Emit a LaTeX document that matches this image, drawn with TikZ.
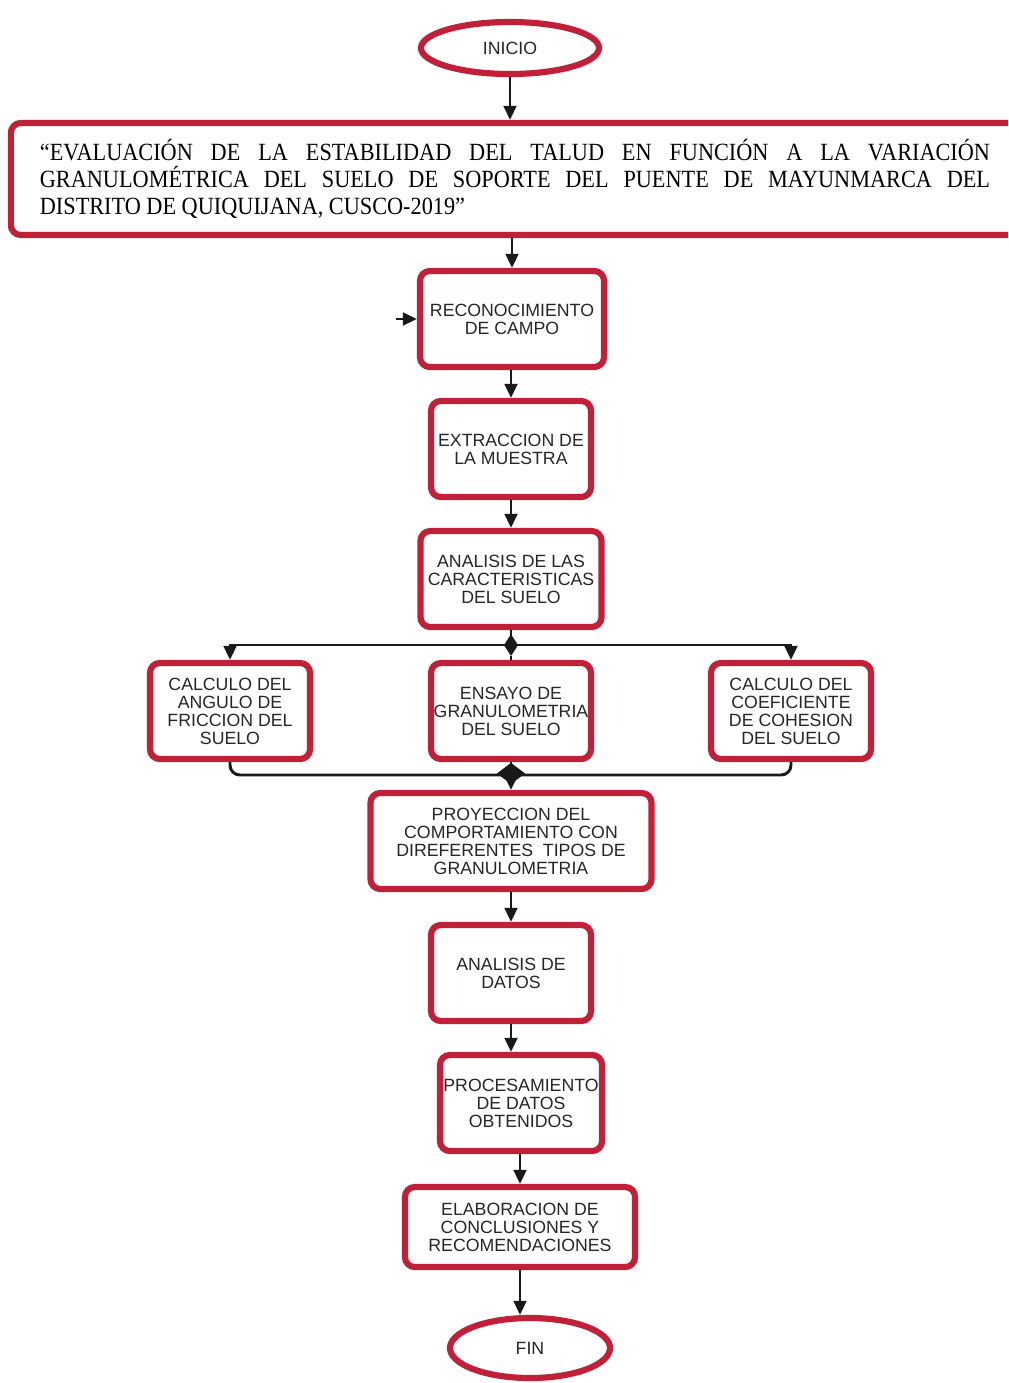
\documentclass[tikz,border=0pt]{standalone}
\usepackage{fontspec}
\setmainfont{Liberation Serif}
\setsansfont{Liberation Sans}
\newfontfamily\titlefont[FakeStretch=0.9]{Liberation Serif}
\usetikzlibrary{arrows.meta}
\usetikzlibrary{shapes.geometric}
\definecolor{boxred}{RGB}{192,32,56}

\begin{document}
\begin{tikzpicture}[
    x=0.025cm, y=-0.025cm,
    every node/.style={font=\sffamily\fontsize{12.6}{12.8}\selectfont, text=black!85},
    box/.style={rectangle, draw=boxred, line width=4.4pt, fill=white,
        minimum width=4cm, minimum height=2.4cm, rounded corners=7pt,
        align=center, inner sep=0pt},
    terminal/.style={ellipse, draw=boxred, line width=4.4pt, fill=white,
        inner sep=0pt},
    heading/.style={rectangle, draw=boxred, line width=4.4pt, fill=white,
        rounded corners=7pt, text width=23.75cm, inner xsep=0.725cm,
        minimum height=2.8cm, align=justify,
        font=\titlefont\fontsize{17.6}{19.2}\selectfont, text=black},
    arrow/.style={-{Triangle[length=10pt, width=9pt]}, line width=2.1pt, draw=black!90},
    junction/.style={-{Kite[length=15.5pt, width=10pt, inset=7.75pt]}, line width=2.1pt, draw=black!90},
    merge/.style={-{Kite[length=15pt, width=20pt, inset=7.5pt]}, line width=2.1pt, draw=black!90},
    link/.style={line width=2.1pt, draw=black!90, rounded corners=7pt},
]
\clip (0,0) rectangle (1008,1383);

% Nodes
\node[terminal, minimum width=4.45cm, minimum height=1.3cm] (inicio) at (510,48) {INICIO};
\node[heading] (tema) at (515,179) {“EVALUACIÓN DE LA ESTABILIDAD DEL TALUD EN FUNCIÓN A LA VARIACIÓN\linebreak
    GRANULOMÉTRICA DEL SUELO DE SOPORTE DEL PUENTE DE MAYUNMARCA DEL\linebreak
    DISTRITO DE QUIQUIJANA, CUSCO-2019”};

\node[box, minimum width=4.6cm] (recon) at (512,319) {RECONOCIMIENTO\\DE CAMPO};
\node[box] (muestra) at (511,449) {EXTRACCION DE\\LA MUESTRA};
\node[box, minimum width=4.525cm] (caract) at (511,579) {ANALISIS DE LAS\\CARACTERISTICAS\\DEL SUELO};

\node[box] (friccion) at (230,711) {CALCULO DEL\\ANGULO DE\\FRICCION DEL\\SUELO};
\node[box] (granulo) at (511,711) {ENSAYO DE\\GRANULOMETRIA\\DEL SUELO};
\node[box] (cohesion) at (791,711) {CALCULO DEL\\COEFICIENTE\\DE COHESION\\DEL SUELO};

\node[box, minimum width=7.025cm] (proyeccion) at (511,841) {PROYECCION DEL\\COMPORTAMIENTO CON\\DIREFERENTES\ \ TIPOS DE\\GRANULOMETRIA};
\node[box] (datos) at (511,973) {ANALISIS DE\\DATOS};
\node[box, minimum width=4.05cm] (proceso) at (521,1103) {PROCESAMIENTO\\DE DATOS\\OBTENIDOS};
\node[box, minimum width=5.75cm, minimum height=2cm] (conclusiones) at (520,1227) {ELABORACION DE\\CONCLUSIONES Y\\RECOMENDACIONES};
\node[terminal, minimum width=4cm, minimum height=1.5cm] (fin) at (530,1348) {FIN};

\coordinate (entrada) at (396,319);
\coordinate (reparto) at (511,645);
\coordinate (cruce) at (511,656);
\coordinate (union) at (511,775);
\coordinate (nudo) at (511,784);

% Arrows
\draw[arrow] (inicio.south) -- (inicio.south |- tema.north);
\draw[arrow] (tema.south -| recon) -- (recon.north);
\draw[arrow] (entrada) -- (recon.west);
\draw[arrow] (recon.south -| muestra) -- (muestra.north);
\draw[arrow] (muestra.south) -- (caract.north);

% Split
\draw[arrow] (reparto) -| (friccion.north);
\draw[arrow] (reparto) -| (cohesion.north);
\draw[junction] (caract.south) -- (cruce);
\draw[link] (cruce) -- (granulo.north);

% Merge
\draw[link] (friccion.south) |- (union);
\draw[link] (cohesion.south) |- (union);
\draw[arrow] (union) -- (proyeccion.north);
\draw[merge] (granulo.south) -- (nudo);

\draw[arrow] (proyeccion.south) -- (datos.north);
\draw[arrow] (datos.south) -- (datos.south |- proceso.north);
\draw[arrow] (proceso.south -| conclusiones) -- (conclusiones.north);
\draw[arrow] (conclusiones.south) -- (conclusiones.south |- fin.north);

\end{tikzpicture}
\end{document}
